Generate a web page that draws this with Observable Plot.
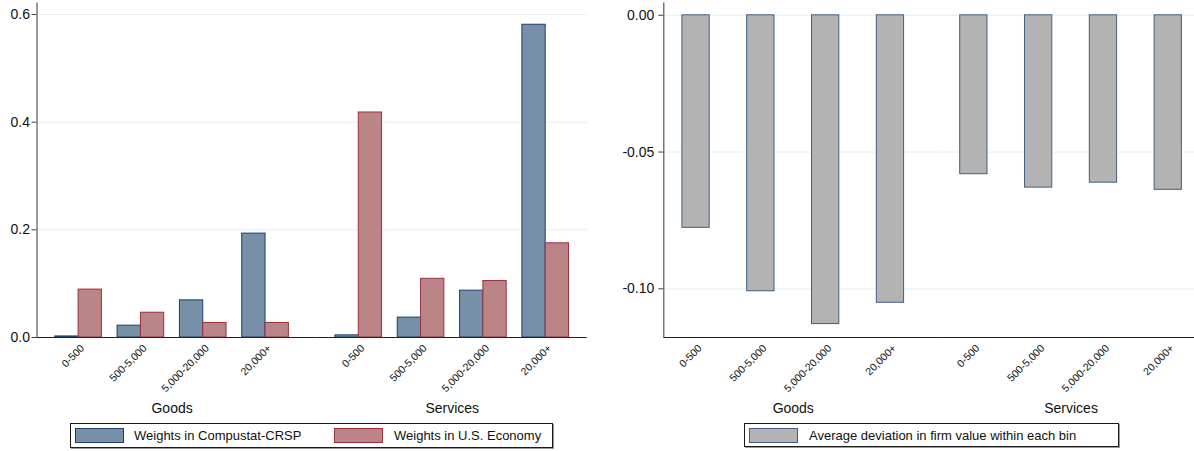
<!DOCTYPE html>
<html>
<head>
<meta charset="utf-8">
<script src="https://cdn.jsdelivr.net/npm/d3@7"></script>
<script src="https://cdn.jsdelivr.net/npm/@observablehq/plot@0.6"></script>
<style>
  html, body { margin: 0; padding: 0; background: #fff; overflow: hidden; }
  #page {
    position: relative; width: 1194px; height: 451px; overflow: hidden;
    font-family: "Liberation Sans", Arial, Helvetica, sans-serif; color: #111;
  }
  .panel { position: absolute; top: 0; }
  .legend {
    position: absolute; box-sizing: border-box; border: 1px solid #1a1a1a;
    box-shadow: 1px 1px 0 #9a9a9a; background: #fff; font-size: 13px;
  }
  .legend .sw { position: absolute; box-sizing: border-box; border: 1px solid; width: 49px; height: 15px; top: 4px; }
  .legend .lab { position: absolute; top: 0; line-height: 23px; white-space: nowrap; }
</style>
</head>
<body>
<div id="page"></div>
<script>
// Firm-size bins within each sector
const sectors = ["Goods", "Services"];
const sizeBins = ["0-500", "500-5,000", "5,000-20,000", "20,000+"];

// Left panel: shares by size bin
const seriesLeft = ["Weights in Compustat-CRSP", "Weights in U.S. Economy"];
const crspGoods = [0.002, 0.022, 0.069, 0.193];
const crspServices = [0.004, 0.037, 0.087, 0.581];
const economyGoods = [0.089, 0.046, 0.027, 0.027];
const economyServices = [0.418, 0.109, 0.105, 0.175];
const weightTicks = [0, 0.2, 0.4, 0.6];
const weightDomain = [0, 0.6214];

// Right panel: average deviation in firm value
const seriesRight = ["Average deviation in firm value within each bin"];
const deviationGoods = [-0.0777, -0.1009, -0.1129, -0.1051];
const deviationServices = [-0.0581, -0.0630, -0.0612, -0.0638];
const deviationTicks = [-0.10, -0.05, 0.00];
const deviationDomain = [-0.1178, 0.0045];

const GRID = "#e6eff1";
const AXIS = "#222";
const FONT = "'Liberation Sans', Arial, Helvetica, sans-serif";

const weightRows = sectors.flatMap((sector, i) => sizeBins.map((size, j) => ({
  sector, size,
  crsp: (i === 0 ? crspGoods : crspServices)[j],
  economy: (i === 0 ? economyGoods : economyServices)[j]
})));
const deviationRows = sectors.flatMap((sector, i) => sizeBins.map((size, j) => ({
  sector, size,
  deviation: (i === 0 ? deviationGoods : deviationServices)[j]
})));

// Band geometry shared by scales and bar insets
function bandLayout(L) {
  const facetW = (L.width - L.marginLeft - L.marginRight - L.gap) / 2;
  const step = facetW / (sizeBins.length - L.padInner + 2 * L.padOuter);
  return {facetW, step, band: step * (1 - L.padInner), outer: step * L.padOuter};
}

function scaleOptions(L, G, domain) {
  return {
    width: L.width, height: L.height,
    marginLeft: L.marginLeft, marginRight: L.marginRight,
    marginTop: L.marginTop, marginBottom: L.marginBottom,
    fx: {domain: sectors, paddingInner: L.gap / (G.facetW + L.gap), paddingOuter: 0, round: false, label: null},
    x: {domain: sizeBins, paddingInner: L.padInner, paddingOuter: L.padOuter, round: false, label: null},
    y: {domain, label: null},
    style: {fontFamily: FONT, color: "#111", background: "transparent", overflow: "visible"}
  };
}

const rowsFor = (sector, values) => values.map(v => ({sector, v}));

function gridMarks(L, ticks, domain) {
  const lines = ticks.filter(v => v !== domain[0]);
  return [
    Plot.ruleY(rowsFor(sectors[0], lines), {fx: "sector", y: "v", stroke: GRID, insetRight: -L.gap}),
    Plot.ruleY(rowsFor(sectors[1], lines), {fx: "sector", y: "v", stroke: GRID})
  ];
}

function axisMarks(L, G, ticks, domain, tickFormat) {
  return [
    Plot.ruleY(rowsFor(sectors[0], [domain[0]]), {fx: "sector", y: "v", stroke: AXIS, strokeWidth: 1.2, insetRight: -L.gap}),
    Plot.ruleY(rowsFor(sectors[1], [domain[0]]), {fx: "sector", y: "v", stroke: AXIS, strokeWidth: 1.2}),
    Plot.ruleX([{sector: sectors[0], size: sizeBins[0]}], {fx: "sector", x: "size", stroke: "#555", strokeWidth: 1.2, dx: -(G.outer + G.band / 2)}),
    Plot.axisY({ticks, tickFormat, tickSize: 5, tickPadding: L.yPad, fontSize: 14, stroke: "#444", label: null, facetAnchor: "left"}),
    Plot.axisX({tickRotate: -45, tickSize: 0, tickPadding: 9, dx: 4, fontSize: 10.5, label: null}),
    Plot.axisFx({anchor: "bottom", tickSize: 0, tickPadding: 66, fontSize: 14, label: null})
  ];
}

function addLegend(page, box, items) {
  const div = document.createElement("div");
  div.className = "legend";
  Object.assign(div.style, {left: box.left + "px", top: box.top + "px", width: box.width + "px", height: box.height + "px"});
  items.forEach(it => {
    const sw = document.createElement("div");
    sw.className = "sw";
    Object.assign(sw.style, {left: it.swatch + "px", background: it.fill, borderColor: it.stroke});
    const lab = document.createElement("div");
    lab.className = "lab";
    lab.style.left = it.text + "px";
    lab.textContent = it.label;
    div.append(sw, lab);
  });
  page.append(div);
}

const page = document.getElementById("page");

// ---- Left: weights ----
const LL = {width: 600, height: 420, marginLeft: 36.5, marginRight: 13.2, marginTop: 2.5, marginBottom: 83,
            gap: 10, padInner: 0.2516, padOuter: 0.2933, yPad: 2};
const GL = bandLayout(LL);
const BLUE = "#7690a9", BLUE_EDGE = "#1d4068";
const RED = "#bb8588", RED_EDGE = "#9c2f3e";

const left = Plot.plot({
  ...scaleOptions(LL, GL, weightDomain),
  marks: [
    ...gridMarks(LL, weightTicks, weightDomain),
    Plot.barY(weightRows, {fx: "sector", x: "size", y: "crsp", fill: BLUE, stroke: BLUE_EDGE, strokeWidth: 1, insetRight: GL.band / 2}),
    Plot.barY(weightRows, {fx: "sector", x: "size", y: "economy", fill: RED, stroke: RED_EDGE, strokeWidth: 1, insetLeft: GL.band / 2}),
    ...axisMarks(LL, GL, weightTicks, weightDomain, d3.format(".1f"))
  ]
});
const leftWrap = document.createElement("div");
leftWrap.className = "panel";
Object.assign(leftWrap.style, {left: "0px", width: LL.width + "px"});
leftWrap.append(left);
page.append(leftWrap);

addLegend(page, {left: 70, top: 423, width: 483, height: 25}, [
  {label: seriesLeft[0], fill: BLUE, stroke: BLUE_EDGE, swatch: 4, text: 63},
  {label: seriesLeft[1], fill: RED, stroke: RED_EDGE, swatch: 263, text: 323}
]);

// ---- Right: deviation ----
const LR = {width: 620, height: 420, marginLeft: 63.3, marginRight: 20, marginTop: 2.5, marginBottom: 83,
            gap: 18.9, padInner: 0.579, padOuter: 0.287, yPad: 4.5};
const GR = bandLayout(LR);
const GRAY = "#b3b3b3", GRAY_EDGE = "#3f5f85";

const right = Plot.plot({
  ...scaleOptions(LR, GR, deviationDomain),
  marks: [
    ...gridMarks(LR, deviationTicks, deviationDomain),
    Plot.barY(deviationRows, {fx: "sector", x: "size", y: "deviation", fill: GRAY, stroke: GRAY_EDGE, strokeWidth: 1}),
    ...axisMarks(LR, GR, deviationTicks, deviationDomain, d => d.toFixed(2))
  ]
});
const rightWrap = document.createElement("div");
rightWrap.className = "panel";
Object.assign(rightWrap.style, {left: "600px", width: LR.width + "px"});
rightWrap.append(right);
page.append(rightWrap);

addLegend(page, {left: 744, top: 423, width: 375, height: 24}, [
  {label: seriesRight[0], fill: GRAY, stroke: GRAY_EDGE, swatch: 4, text: 64}
]);
</script>
</body>
</html>
